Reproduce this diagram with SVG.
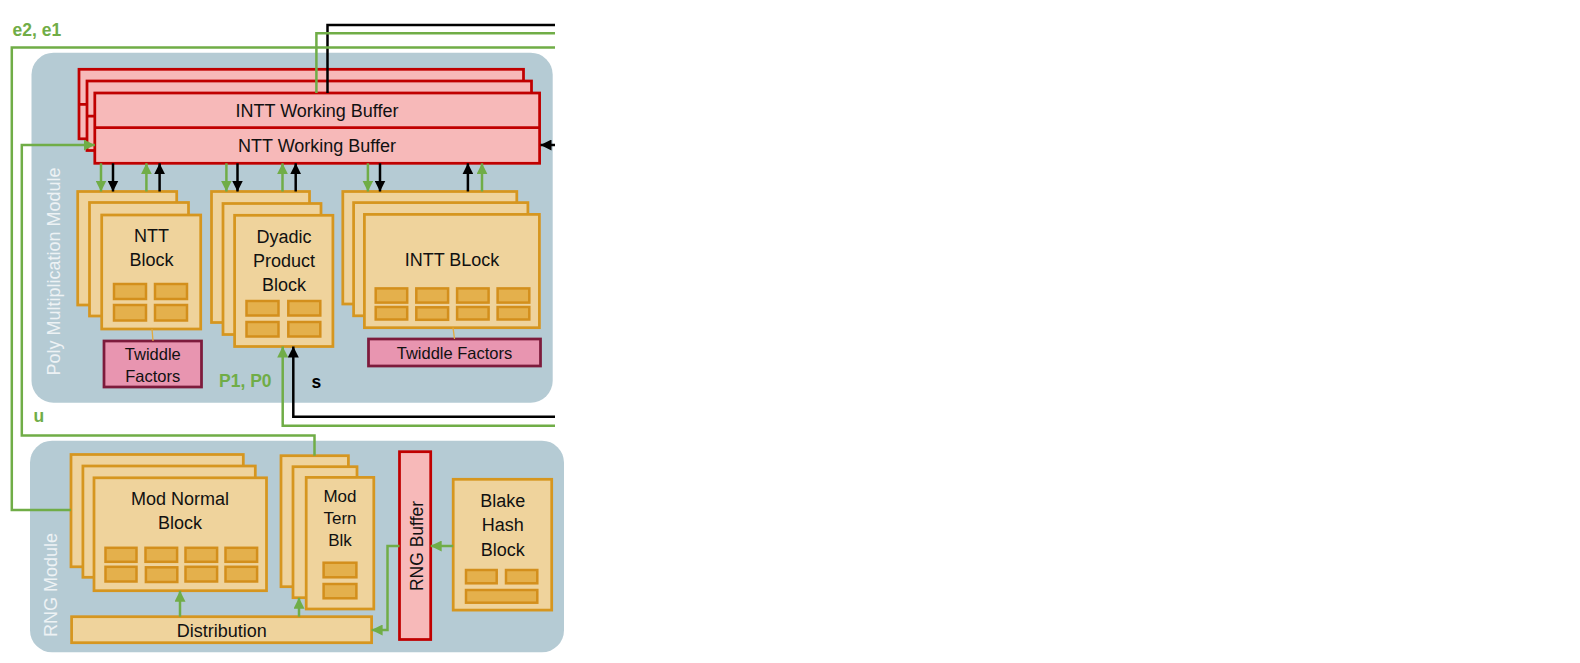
<svg xmlns="http://www.w3.org/2000/svg" width="1580" height="663" viewBox="0 0 1580 663">
<defs>
<style>
.panel{fill:#b5cbd4}
.buf{fill:#f7b9b9;stroke:#c00000;stroke-width:2.75}
.blk{fill:#efd39c;stroke:#d6961f;stroke-width:2.75}
.mini{fill:#e4b04c;stroke:#d38f1c;stroke-width:2.5}
.tw{fill:#e895b0;stroke:#7d1b3c;stroke-width:2.75}
.t{font-family:"Liberation Sans",Arial,sans-serif;font-size:18px;fill:#111;text-anchor:middle}
.ts{font-size:16.5px}
.vl{font-family:"Liberation Sans",Arial,sans-serif;font-size:18px;fill:#edf2f4;text-anchor:middle}
.lbl{font-family:"Liberation Sans",Arial,sans-serif;font-size:17.5px;font-weight:bold}
.g{fill:none;stroke:#70ad47;stroke-width:2.5}
.k{fill:none;stroke:#000;stroke-width:2.5}
.thin{fill:none;stroke:#e2a93e;stroke-width:1.3}
</style>
<marker id="ag" markerUnits="userSpaceOnUse" markerWidth="11" markerHeight="11" refX="11" refY="5.5" orient="auto"><path d="M0,0 L11,5.5 L0,11 z" fill="#70ad47"/></marker>
<marker id="ak" markerUnits="userSpaceOnUse" markerWidth="11" markerHeight="11" refX="11" refY="5.5" orient="auto"><path d="M0,0 L11,5.5 L0,11 z" fill="#000"/></marker>
</defs>
<rect width="1580" height="663" fill="#fff"/>

<g id="poly-module">
<rect class="panel" x="31.5" y="52.7" width="521.2" height="350" rx="22"/>
<text class="vl" transform="translate(59.5,271.5) rotate(-90)">Poly Multiplication Module</text>
</g>
<g id="rng-module">
<rect class="panel" x="30" y="440.7" width="534" height="211.6" rx="22"/>
<text class="vl" transform="translate(57,585) rotate(-90)">RNG Module</text>
</g>

<g id="working-buffer">
<rect class="buf" x="79" y="69.3" width="444.5" height="69.5"/>
<line class="buf" x1="79" y1="104.3" x2="523.5" y2="104.3"/>
<rect class="buf" x="87" y="81" width="444.5" height="69.5"/>
<line class="buf" x1="87" y1="116" x2="531.5" y2="116"/>
<rect class="buf" x="94.8" y="93" width="444.8" height="70.3"/>
<line class="buf" x1="94.8" y1="127.5" x2="539.6" y2="127.5"/>
<text class="t" x="317" y="116.5">INTT Working Buffer</text>
<text class="t" x="317" y="152">NTT Working Buffer</text>
</g>

<g id="ntt-block">
<rect class="blk" x="77.7" y="191.5" width="99" height="113.5"/>
<rect class="blk" x="89.5" y="202.5" width="99" height="113.5"/>
<rect class="blk" x="101.7" y="215" width="99" height="114"/>
<text class="t" x="151.5" y="242">NTT</text>
<text class="t" x="151.5" y="266">Block</text>
<rect class="mini" x="114" y="284" width="32" height="15"/>
<rect class="mini" x="155" y="284" width="32" height="15"/>
<rect class="mini" x="114" y="305" width="32" height="15.5"/>
<rect class="mini" x="155" y="305" width="32" height="15.5"/>
</g>
<g id="ntt-twiddle">
<rect class="tw" x="104" y="341" width="97.5" height="46"/>
<text class="t ts" x="152.8" y="359.5">Twiddle</text>
<text class="t ts" x="152.8" y="381.5">Factors</text>
</g>

<g id="dyadic-block">
<rect class="blk" x="211.5" y="191.5" width="98" height="131"/>
<rect class="blk" x="223" y="203.5" width="98" height="131"/>
<rect class="blk" x="234.6" y="215.3" width="98.3" height="131.2"/>
<text class="t" x="284" y="243">Dyadic</text>
<text class="t" x="284" y="267">Product</text>
<text class="t" x="284" y="291">Block</text>
<rect class="mini" x="246.5" y="301" width="32" height="14.5"/>
<rect class="mini" x="288.3" y="301" width="32" height="14.5"/>
<rect class="mini" x="246.5" y="322" width="32" height="14.5"/>
<rect class="mini" x="288.3" y="322" width="32" height="14.5"/>
</g>

<g id="intt-block">
<rect class="blk" x="342.8" y="191.5" width="174" height="112.5"/>
<rect class="blk" x="353.6" y="202.6" width="174.3" height="113.2"/>
<rect class="blk" x="364.4" y="214.4" width="175" height="113.3"/>
<text class="t" x="452" y="266">INTT BLock</text>
<rect class="mini" x="375.7" y="288.4" width="31.5" height="14.2"/>
<rect class="mini" x="416.3" y="288.4" width="31.8" height="14.2"/>
<rect class="mini" x="457.1" y="288.4" width="31.5" height="14.2"/>
<rect class="mini" x="497.6" y="288.4" width="31.7" height="14.2"/>
<rect class="mini" x="375.7" y="307" width="31.5" height="12.5"/>
<rect class="mini" x="416.3" y="307.3" width="31.8" height="12.5"/>
<rect class="mini" x="457.1" y="307" width="31.5" height="12.5"/>
<rect class="mini" x="497.6" y="307" width="31.7" height="12.5"/>
</g>
<g id="intt-twiddle">
<rect class="tw" x="368.5" y="339" width="172" height="27"/>
<text class="t ts" x="454.5" y="358.5">Twiddle Factors</text>
</g>

<g id="mod-normal-block">
<rect class="blk" x="71" y="454.5" width="172.3" height="112.3"/>
<rect class="blk" x="82.9" y="466" width="172.4" height="111.3"/>
<rect class="blk" x="94" y="477.8" width="172.5" height="112.9"/>
<text class="t" x="180" y="505">Mod Normal</text>
<text class="t" x="180" y="529.3">Block</text>
<rect class="mini" x="105.5" y="547.8" width="31" height="14"/>
<rect class="mini" x="145.5" y="547.8" width="31.6" height="14"/>
<rect class="mini" x="185.5" y="547.8" width="31.6" height="14"/>
<rect class="mini" x="225.5" y="547.8" width="31.6" height="14"/>
<rect class="mini" x="105.5" y="566.8" width="31" height="14.7"/>
<rect class="mini" x="145.9" y="567.3" width="31.4" height="14.7"/>
<rect class="mini" x="185.5" y="566.8" width="31.6" height="14.7"/>
<rect class="mini" x="225.5" y="566.8" width="31.6" height="14.7"/>
</g>

<g id="mod-tern-block">
<rect class="blk" x="281" y="455.7" width="67.4" height="131"/>
<rect class="blk" x="293" y="466.7" width="64" height="131"/>
<rect class="blk" x="306.2" y="477.4" width="67.6" height="131.6"/>
<text class="t" x="340" y="501.7" style="font-size:17px">Mod</text>
<text class="t" x="340" y="524" style="font-size:17px">Tern</text>
<text class="t" x="340" y="545.7" style="font-size:17px">Blk</text>
<rect class="mini" x="323.6" y="562.7" width="32.8" height="14.6"/>
<rect class="mini" x="323.6" y="584" width="32.8" height="14.3"/>
</g>

<g id="rng-buffer">
<rect class="buf" x="399.5" y="451.7" width="31.2" height="187.8"/>
<text class="t" transform="translate(423.3,546) rotate(-90)" style="font-size:17.5px">RNG Buffer</text>
</g>

<g id="blake-hash-block">
<rect class="blk" x="453.2" y="479.3" width="98.5" height="130.8"/>
<text class="t" x="502.7" y="507">Blake</text>
<text class="t" x="502.7" y="531.2">Hash</text>
<text class="t" x="502.7" y="555.8">Block</text>
<rect class="mini" x="466" y="570" width="30.7" height="13.3"/>
<rect class="mini" x="506" y="570" width="31.3" height="13.3"/>
<rect class="mini" x="466" y="590" width="71.3" height="12.7"/>
</g>

<g id="distribution">
<rect class="blk" x="71.6" y="616.7" width="300" height="26"/>
<text class="t" x="221.8" y="636.7">Distribution</text>
</g>

<g id="connectors">
<path class="k" d="M555,25 H327.5 V93"/>
<path class="g" d="M555,33.3 H316.4 V93"/>
<path class="g" d="M555,47.5 H11.8 V510 H71"/>
<path class="g" d="M314.5,455.7 V435.5 H21.8 V145 H94.8" marker-end="url(#ag)"/>
<path class="k" d="M555,145 H540.5" marker-end="url(#ak)"/>
<path class="g" d="M101,163.3 V191.5" marker-end="url(#ag)"/>
<path class="k" d="M113,163.3 V191.5" marker-end="url(#ak)"/>
<path class="g" d="M146.4,191.5 V163.3" marker-end="url(#ag)"/>
<path class="k" d="M159.6,191.5 V163.3" marker-end="url(#ak)"/>
<path class="g" d="M226.4,163.3 V191.5" marker-end="url(#ag)"/>
<path class="k" d="M237.5,163.3 V191.5" marker-end="url(#ak)"/>
<path class="g" d="M282.5,191.5 V163.3" marker-end="url(#ag)"/>
<path class="k" d="M295.7,191.5 V163.3" marker-end="url(#ak)"/>
<path class="g" d="M367.9,163.3 V191.5" marker-end="url(#ag)"/>
<path class="k" d="M380,163.3 V191.5" marker-end="url(#ak)"/>
<path class="k" d="M467.9,191.5 V163.3" marker-end="url(#ak)"/>
<path class="g" d="M482,191.5 V163.3" marker-end="url(#ag)"/>
<path class="thin" d="M152,329 L153,341"/>
<path class="thin" d="M453,327.7 L454.5,339"/>
<path class="g" d="M555,425.7 H282.7 V346.5" marker-end="url(#ag)"/>
<path class="k" d="M555,416.7 H293.3 V346.5" marker-end="url(#ak)"/>
<path class="g" d="M180,616.7 V590.7" marker-end="url(#ag)"/>
<path class="g" d="M299,616.7 V597.7" marker-end="url(#ag)"/>
<path class="g" d="M453.2,546 H430.7" marker-end="url(#ag)"/>
<path class="g" d="M399.5,546 H387.5 V630 H371.6" marker-end="url(#ag)"/>
<text class="lbl" x="12.5" y="35.7" fill="#70ad47">e2, e1</text>
<text class="lbl" x="33.5" y="422" fill="#70ad47">u</text>
<text class="lbl" x="219" y="386.7" fill="#70ad47">P1, P0</text>
<text class="lbl" x="311.5" y="388.3" fill="#000">s</text>
</g>
</svg>
